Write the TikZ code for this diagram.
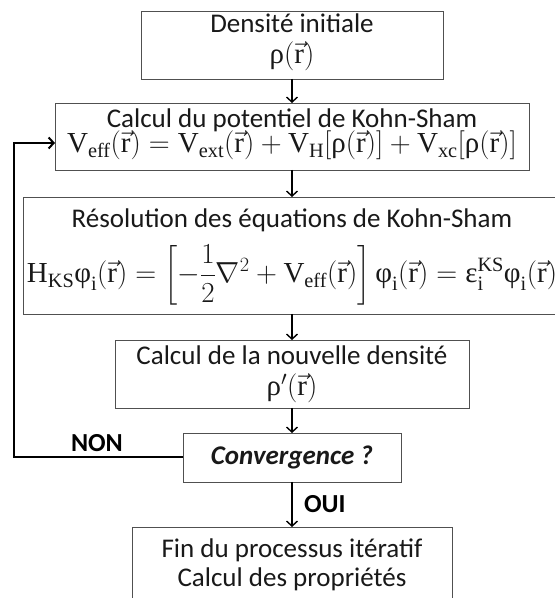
\RequirePackage{fix-cm}
\documentclass[tikz,border=0pt]{standalone}
\usepackage{amsmath}
\usepackage[no-math]{fontspec}
\setmainfont{Carlito}
\newfontfamily\mf{Liberation Serif}
\usetikzlibrary{arrows.meta}
\newcommand{\tm}[1]{\text{\mf #1}}
\newcommand{\vr}{\vec{\tm{r}}}
\definecolor{boxgray}{RGB}{80,80,80}
\definecolor{textc}{RGB}{25,25,25}
\tikzset{
  box/.style={draw=boxgray, line width=0.9pt, inner sep=0pt, outer sep=0pt},
  txt/.style={font=\fontsize{27}{32}\selectfont, text=textc, inner sep=0pt, outer sep=0pt, text height=18pt, text depth=5pt},
  mtxt/.style={font=\fontsize{29}{34}\selectfont, text=textc, inner sep=0pt, outer sep=0pt, text height=19pt, text depth=6pt},
  lbl/.style={font=\fontsize{26}{30}\selectfont\bfseries, text=black, inner sep=0pt, outer sep=0pt, text height=17pt, text depth=1pt},
  arr/.style={draw=black, line width=1.4pt, -{Straight Barb[length=5pt,width=11pt]}},
  looparr/.style={draw=black, line width=2pt, -{Straight Barb[length=5pt,width=11pt]}},
}
\begin{document}
\begin{tikzpicture}[x=1pt,y=1pt]
\useasboundingbox (0,0) rectangle (555,598);
\clip (0,0) rectangle (555,598);
\fill[white] (0,0) rectangle (555,598);
% boxes
\node[box, minimum width=302pt, minimum height=68pt] (b1) at (292,553) {};
\node[box, minimum width=474pt, minimum height=67pt] (b2) at (292,461.5) {};
\node[box, minimum width=538pt, minimum height=117pt] (b3) at (292,342.5) {};
\node[box, minimum width=354pt, minimum height=68pt] (b4) at (292,224) {};
\node[box, minimum width=218pt, minimum height=49pt] (cv) at (292,140.5) {};
\node[box, minimum width=320pt, minimum height=113pt] (b6) at (292,14.5) {};
% texts
\node[txt, anchor=base] (t1a) at (292,565) {Densité initiale};
\node[mtxt, anchor=base] (t1b) at (292,534) {$\tm{ρ}(\vr)$};
\node[txt, anchor=base] (t2a) at (292,470) {Calcul du potentiel de Kohn-Sham};
\node[mtxt, anchor=base] (t2b) at (292,445) {$\tm{V}_{\tm{eff}}(\vr) = \tm{V}_{\tm{ext}}(\vr) + \tm{V}_{\tm{H}}[\tm{ρ}(\vr)] + \tm{V}_{\tm{xc}}[\tm{ρ}(\vr)]$};
\node[txt, anchor=base] (t3a) at (292,370) {Résolution des équations de Kohn-Sham};
\node[mtxt, anchor=base] (t3b) at (292,315) {$\displaystyle \tm{H}_{\tm{KS}}\tm{φ}_{\tm{i}}(\vr) = \left[-\frac{1}{2}\nabla^2 + \tm{V}_{\tm{eff}}(\vr)\right]\tm{φ}_{\tm{i}}(\vr) = \tm{ε}_{\tm{i}}^{\tm{KS}}\tm{φ}_{\tm{i}}(\vr)$};
\node[txt, anchor=base] (t4a) at (292,233) {Calcul de la nouvelle densité};
\node[mtxt, anchor=base] (t4b) at (292,202) {$\tm{ρ}'(\vr)$};
\node[txt, anchor=base] (tcv) at (292,133) {\bfseries\itshape Convergence ?};
\node[txt, anchor=base] (t6a) at (292,40) {Fin du processus itératif};
\node[txt, anchor=base] (t6b) at (292,11) {Calcul des propriétés};
% connectors
\coordinate (ax) at (292,0);
\coordinate (lp) at (14,455);
\draw[arr] (b1.south -| ax) -- (b2.north -| ax);
\draw[arr] (b2.south -| ax) -- (b3.north -| ax);
\draw[arr] (b3.south -| ax) -- (b4.north -| ax);
\draw[arr] (b4.south -| ax) -- (cv.north -| ax);
\draw[arr] (cv.south -| ax) -- (b6.north -| ax);
\draw[looparr] (cv.west) -| (lp) -- (lp -| b2.west);
\node[lbl, anchor=base west] (non) at (71,146) {NON};
\node[lbl, anchor=base west] (oui) at (304,85) {OUI};
\end{tikzpicture}
\end{document}
